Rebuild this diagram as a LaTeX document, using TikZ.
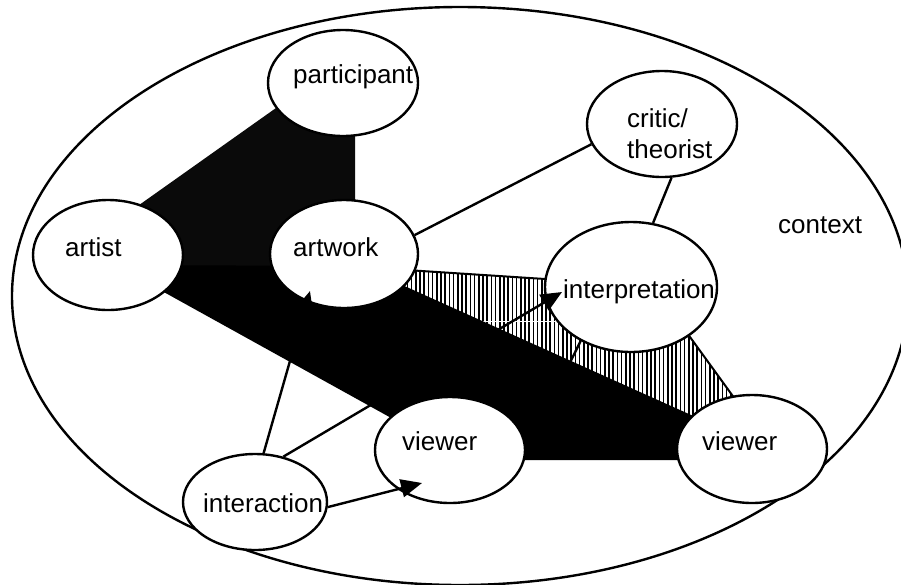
\documentclass[tikz,border=0pt]{standalone}
\usepackage{fontspec}
\setmainfont{Liberation Sans}
\usetikzlibrary{shapes.geometric,arrows.meta,patterns.meta}
\pgfdeclarelayer{bg}
\pgfsetlayers{bg,main}
\begin{document}
\begin{tikzpicture}[x=1pt,y=-1pt,line join=round,
  bub/.style={ellipse,draw,line width=2.4pt,fill=white,inner sep=0pt},
  lbl/.style={anchor=base west,inner sep=0pt,font=\fontsize{26}{30}\selectfont},
  conn/.style={line width=2.4pt},
  arr/.style={line width=2.4pt,-{Triangle[length=21pt,width=18pt]}}]
\useasboundingbox (0,0) rectangle (901,584);

% outer context ellipse
\node[ellipse,draw,line width=2.4pt,inner sep=0pt,minimum width=896pt,minimum height=578pt] (ctx) at (460,296) {};

% bubbles
\node[bub,minimum width=150pt,minimum height=106pt] (participant) at (343,83) {};
\node[bub,minimum width=150pt,minimum height=110pt] (artist) at (108,255) {};
\node[bub,minimum width=148pt,minimum height=108pt] (artwork) at (344,254) {};
\node[bub,minimum width=150pt,minimum height=106pt] (critic) at (662,124) {};
\node[bub,minimum width=172pt,minimum height=130pt] (interp) at (631,287) {};
\node[bub,minimum width=150pt,minimum height=106pt] (viewerA) at (450,450) {};
\node[bub,minimum width=150pt,minimum height=108pt] (viewerB) at (752,449) {};
\node[bub,minimum width=144pt,minimum height=96pt] (interaction) at (255,502) {};

\coordinate (ivline) at (554,395);

\begin{pgfonlayer}{bg}
  % hatched region
  \draw[line width=2pt,pattern={Lines[angle=90,distance=4.2pt,line width=1.7pt]}]
    (360,267) -- (653,286) -- (748,417) -- (748,445) -- (360,280) -- cycle;
  \draw[conn] (interp.227) -- (ivline);
  % stippled dark region
  \fill[black!96] (300,91) -- (355,91) -- (355,268) -- (115,268) -- (125,215) -- cycle;
  % black band
  \fill[black] (115,265) -- (360,266) -- (740,437) -- (740,460) -- (450,460) -- (440,445) -- cycle;
\end{pgfonlayer}

% labels
\node[lbl] (t-participant) at (293,83) {participant};
\node[lbl] (t-artist) at (65,256) {artist};
\node[lbl] (t-artwork) at (293,256) {artwork};
\node[lbl] (t-critic1) at (627,127) {critic/};
\node[lbl] (t-critic2) at (627,158) {theorist};
\node[lbl] (t-interp) at (563,298) {interpretation};
\node[lbl] (t-viewerA) at (402,450) {viewer};
\node[lbl] (t-viewerB) at (702,450) {viewer};
\node[lbl] (t-interaction) at (203,512) {interaction};
\node[lbl] (t-context) at (778,233) {context};

% connectors
\draw[conn] (artwork.15) -- (critic.196);
\draw[conn] (critic.280) -- (interp.71);

\coordinate (tipAW) at (310,291);
\coordinate (tipIP) at (562,292);
\coordinate (tipV1) at (422,483);
\draw[arr] (interaction.80) -- (tipAW);
\draw[arr] (interaction.58) -- (tipIP);
\draw[arr] (interaction.-4) -- (tipV1);
\end{tikzpicture}
\end{document}
